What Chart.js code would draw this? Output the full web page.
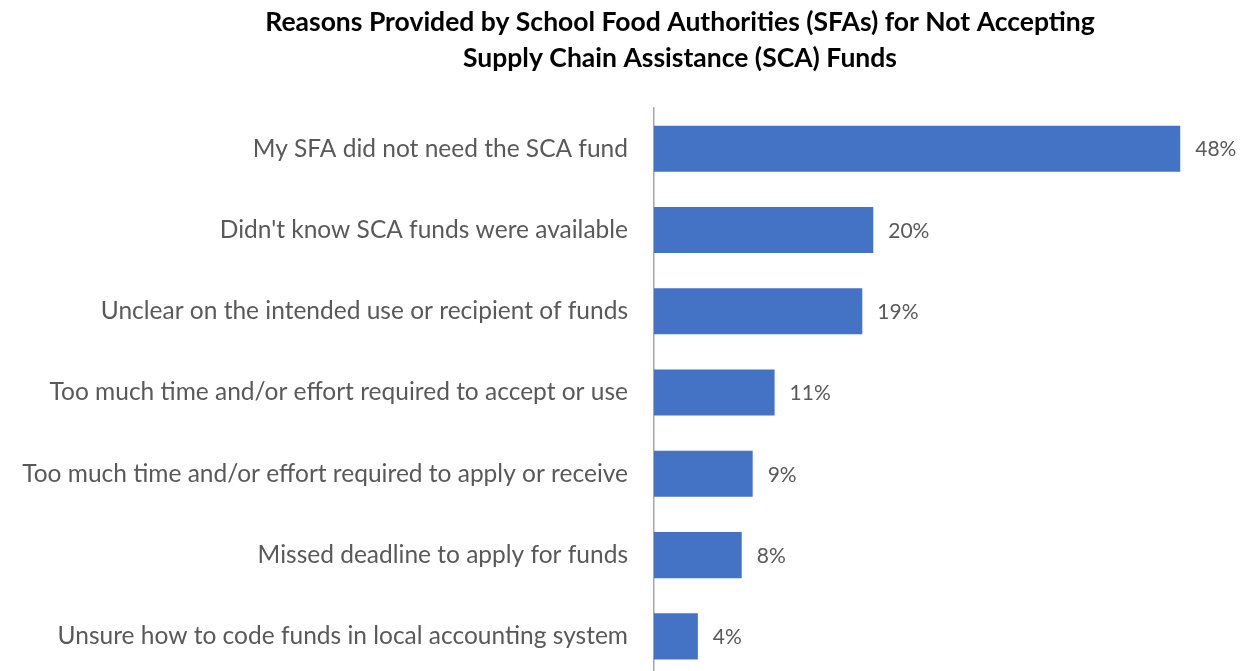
<!DOCTYPE html>
<html>
<head>
<meta charset="utf-8">
<script src="https://cdn.jsdelivr.net/npm/chart.js@4.4.0/dist/chart.umd.min.js"></script>
<style>
  html, body { margin: 0; padding: 0; background: #fff; overflow: hidden; }
  .chart-container { position: relative; width: 1360px; height: 690px; }
  #barChart { width: 1360px; height: 690px; }
</style>
</head>
<body>
<div class="chart-container">
  <canvas id="barChart" width="1360" height="690"></canvas>
</div>
<script>
// Survey responses, top to bottom
const reasons = [
    'My SFA did not need the SCA fund',
    "Didn't know SCA funds were available",
    'Unclear on the intended use or recipient of funds',
    'Too much time and/or effort required to accept or use',
    'Too much time and/or effort required to apply or receive',
    'Missed deadline to apply for funds',
    'Unsure how to code funds in local accounting system'
];
const percentages = [48, 20, 19, 11, 9, 8, 4];

const titleLines = [
    'Reasons Provided by School Food Authorities (SFAs) for Not Accepting',
    'Supply Chain Assistance (SCA) Funds'
];

const labelFont = 'Lato, "Open Sans", sans-serif';

// Print the percentage just past the end of each bar
const valueLabels = {
    id: 'valueLabels',
    afterDatasetsDraw(chart) {
        const ctx = chart.ctx;
        const meta = chart.getDatasetMeta(0);
        ctx.save();
        ctx.font = '21px ' + labelFont;
        ctx.fillStyle = '#595959';
        ctx.textAlign = 'left';
        ctx.textBaseline = 'middle';
        meta.data.forEach((bar, i) => {
            ctx.fillText(percentages[i] + '%', bar.x + 15, bar.y + 1);
        });
        ctx.restore();
    }
};

const ctx = document.getElementById('barChart').getContext('2d');
new Chart(ctx, {
    type: 'bar',
    data: {
        labels: reasons,
        datasets: [{
            data: percentages,
            backgroundColor: '#4472C4',
            borderWidth: 0,
            categoryPercentage: 1,
            barPercentage: 0.567
        }]
    },
    options: {
        indexAxis: 'y',
        responsive: false,
        maintainAspectRatio: false,
        animation: false,
        layout: { padding: { left: 0, right: 0, top: 0, bottom: 13 } },
        plugins: {
            legend: { display: false },
            tooltip: { enabled: false },
            title: {
                display: true,
                text: titleLines,
                color: '#000',
                font: { family: labelFont, size: 26.5, weight: 'bold', lineHeight: 1.36 },
                padding: { top: 4, bottom: 32 }
            }
        },
        scales: {
            x: {
                display: false,
                min: 0,
                max: 64.4
            },
            y: {
                // fixed label column; no extra room above/below the categories
                afterFit(scale) {
                    scale.width = 654;
                    scale.paddingTop = 0;
                    scale.paddingBottom = 0;
                },
                grid: { display: false, drawTicks: false },
                border: { display: true, color: '#a6a6a6', width: 1.5 },
                ticks: {
                    padding: 26,
                    color: '#595959',
                    font: { family: labelFont, size: 24.5 }
                }
            }
        }
    },
    plugins: [valueLabels]
});
</script>
</body>
</html>
